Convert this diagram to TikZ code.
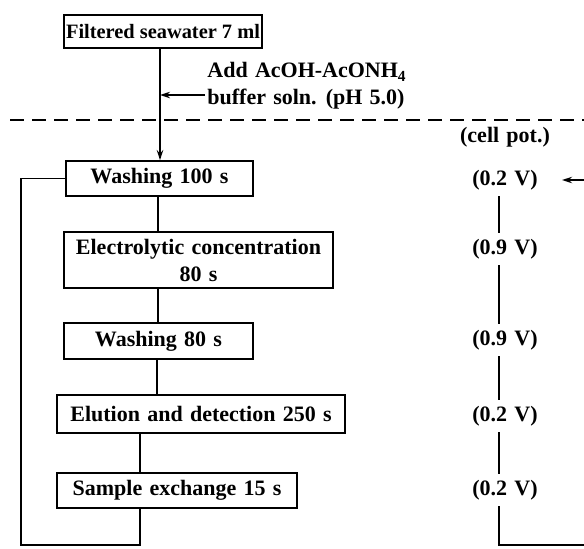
\documentclass[tikz,border=0pt]{standalone}
\usepackage{fontspec}
\setmainfont{Liberation Serif}
\usetikzlibrary{arrows.meta}
\newcommand{\labfont}{\fontsize{11}{13.5}\selectfont\bfseries\spaceskip=0.33em plus 0.1em}
\tikzset{
  stage/.style={draw, line width=0.9pt, inner sep=1.5pt, font=\labfont, align=center},
  pot/.style={font=\labfont, inner sep=3pt},
  flow/.style={line width=0.9pt},
  tip/.style={-{Stealth[length=5pt,width=3.2pt]}},
  cut/.style={line width=0.8pt, dash pattern=on 7pt off 4pt},
}
\begin{document}
\begin{tikzpicture}[x=0.5pt,y=-0.5pt]
  \useasboundingbox (0,0) rectangle (584,548);
  \draw
    (163,31.5) node[stage, minimum width=95pt, minimum height=16.5pt, inner sep=1pt,
      font=\fontsize{10.2}{12}\selectfont\bfseries] (feed){Filtered seawater 7 ml}
    (159.5,178.5) node[stage, minimum width=93.5pt, minimum height=17.5pt] (wash1){Washing 100 s}
    (198.5,260) node[stage, minimum width=134.5pt, minimum height=28pt] (conc){Electrolytic concentration\\80 s}
    (158.5,341) node[stage, minimum width=94.5pt, minimum height=18pt] (wash2){Washing 80 s}
    (201,414) node[stage, minimum width=144pt, minimum height=19pt] (elut){Elution and detection 250 s}
    (177,490.5) node[stage, minimum width=120pt, minimum height=17.5pt] (samp){Sample exchange 15 s};
  \node[font=\labfont, align=left, anchor=west, inner sep=0pt] (buffer) at (207,86)
    {Add AcOH-AcONH\textsubscript{4}\\buffer soln. (pH 5.0)};
  \node[pot] (cellpot) at (505,137) {(cell pot.)};
  \draw
    (505,180) node[pot] (v1){(0.2 V)}
    (505,249) node[pot] (v2){(0.9 V)}
    (505,340) node[pot] (v3){(0.9 V)}
    (505,416) node[pot] (v4){(0.2 V)}
    (505,490) node[pot] (v5){(0.2 V)};
  \coordinate (xa) at (160,0);
  \coordinate (xb) at (158,0);
  \coordinate (xc) at (157,0);
  \coordinate (xd) at (140,0);
  \coordinate (xl) at (21,0);
  \coordinate (xv) at (499,0);
  \coordinate (xr) at (584,0);
  \coordinate (yb) at (0,545);
  \coordinate (dl) at (10,120);
  \coordinate (bufin) at (205,95);
  \begin{scope}[flow]
    \draw[tip] (feed.south -| xa) to (wash1.north -| xa);
    \draw[tip] (bufin) to (bufin -| xa);
    \draw (wash1.south -| xb) to (conc.north -| xb);
    \draw (conc.south -| xb) to (wash2.north -| xb);
    \draw (wash2.south -| xc) to (elut.north -| xc);
    \draw (elut.south -| xd) to (samp.north -| xd);
    \draw (samp.south -| xd) -- (yb -| xd) -| (xl |- wash1.west) -- (wash1.west);
    \draw (v1.south -| xv) to (v2.north -| xv);
    \draw (v2.south -| xv) to (v3.north -| xv);
    \draw (v3.south -| xv) to (v4.north -| xv);
    \draw (v4.south -| xv) to (v5.north -| xv);
    \draw (v5.south -| xv) -- (yb -| xv) -- (yb -| xr);
    \draw[tip] (xr |- v1) to ([xshift=9pt]v1.east);
  \end{scope}
  \draw[cut] (dl) -- (dl -| xr);
\end{tikzpicture}
\end{document}
